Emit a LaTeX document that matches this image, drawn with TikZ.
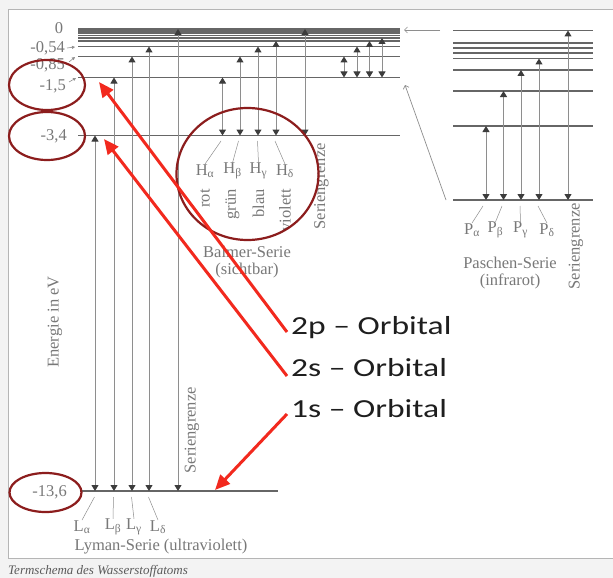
\documentclass[tikz,border=0pt]{standalone}
\usepackage{fontspec}
\setmainfont{Liberation Serif}
\newfontfamily\orbfont{Carlito}
\usetikzlibrary{arrows.meta}
\definecolor{paper}{HTML}{F3F3F3}
\definecolor{framegray}{HTML}{B5B5B5}
\definecolor{levelgray}{HTML}{666666}
\definecolor{arrowgray}{HTML}{8E8E8E}
\definecolor{tipgray}{HTML}{3C3C3C}
\definecolor{inkgray}{HTML}{787878}
\definecolor{capgray}{HTML}{5A5A5A}
\definecolor{ringred}{HTML}{8C1D1D}
\definecolor{markred}{HTML}{F2291E}
\definecolor{orbink}{HTML}{1E1E1E}
\newcommand{\orbtext}[1]{\scalebox{1.29}[1]{#1}}
\begin{document}
\begin{tikzpicture}[x=1pt,y=-1pt,
  levelline/.style={levelgray, line width=1.1pt},
  transarrow/.style={arrowgray, line width=1pt,
    {Triangle[length=6pt,width=7pt,color=tipgray]}-{Triangle[length=6pt,width=7pt,color=tipgray]}},
  leadline/.style={arrowgray, line width=0.5pt},
  pointer/.style={arrowgray, line width=0.7pt, -{Straight Barb[length=3pt,width=6pt]}},
  tinyarrow/.style={arrowgray, line width=0.6pt, -{Triangle[length=3pt,width=3pt]}},
  lbl/.style={text=inkgray, inner sep=0pt, font=\fontsize{16.5}{18}\selectfont},
  vlbl/.style={lbl, rotate=90, anchor=east},
  ring/.style={ringred, line width=2.2pt},
  redarrow/.style={markred, line width=3pt, -{Triangle[length=15pt,width=13pt]}},
  orb/.style={text=orbink, inner sep=0pt, anchor=west,
    font=\orbfont\fontsize{26}{30}\selectfont}]
\useasboundingbox (0,0) rectangle (613,578);
% page and frame
\fill[paper] (0,0) rectangle (613,578);
\fill[white] (8,10) rectangle (613,558);
\draw[framegray, line width=1pt] (614,10) -- (8,10) -- (8,558) -- (614,558);

% ---- left term scheme: levels n = oo ... 2, and n = 1
\foreach \y in {29,31,33,35.5,38,41,46.5,56.5,77.5,135.5}
  \draw[levelline] (78,\y) -- (400,\y);
\draw[levelline] (80,491) -- (278,491);

% Lyman transitions
\foreach \x/\t in {95/135.5,114/77.5,132/56.5,149/46.5,178/29}
  \draw[transarrow] (\x,491) -- (\x,\t);
% Balmer transitions
\foreach \x/\t in {222.5/77.5,240/56.5,258/46.5,276/41,305/29}
  \draw[transarrow] (\x,135.5) -- (\x,\t);
% Paschen transitions (left scheme)
\foreach \x/\t in {344/56.5,357/46.5,369.5/41,382/38}
  \draw[transarrow] (\x,77.5) -- (\x,\t);

% ---- right term scheme (Paschen, enlarged)
\foreach \y in {30.5,43,48,53,58.5,70,91,126,200}
  \draw[levelline] (453,\y) -- (593,\y);
\foreach \x/\t in {486/126,503.5/91,521/70,539/58.5,568/30.5}
  \draw[transarrow] (\x,200) -- (\x,\t);

% pointers linking both schemes
\coordinate (pTopA) at (440,30);
\coordinate (pTopB) at (404,30);
\coordinate (pLowA) at (446,200);
\coordinate (pLowB) at (405,85);
\draw[pointer] (pTopA) -- (pTopB);
\draw[pointer] (pLowA) -- (pLowB);

% energy values
\node[lbl] (e0) at (59,28) {0};
\node[lbl, anchor=east] (e054) at (65,48) {-0,54};
\node[lbl, anchor=east] (e085) at (65,65) {-0,85};
\node[lbl, anchor=east] (e15) at (66,86) {-1,5};
\node[lbl, anchor=east] (e34) at (67,136.5) {-3,4};
\node[lbl, anchor=east] (e136) at (67,492) {-13,6};
\draw[tinyarrow] (e054.east) ++(2,0) -- (75,47);
\draw[tinyarrow] (69,62) -- (75,57);
\draw[tinyarrow] (69,82) -- (76,78);
\node[lbl, rotate=90] (axis) at (55,322) {Energie in eV};

% Lyman labels
\foreach \n/\g/\x/\a in {La/α/82/94.5, Lb/β/113/113.5, Lc/γ/134/131.5, Ld/δ/158/148.5}{
  \node[lbl] (\n) at (\x,527) {L\textsubscript{\g}};
  \draw[leadline] (\a,497) -- (\n.north);
}
\node[lbl] (lyman) at (161,547) {Lyman-Serie (ultraviolett)};
\node[vlbl] (lymlimit) at (192,387) {Seriengrenze};

% Balmer labels
\foreach \n/\g/\x/\a/\c in {Ha/α/205/221/rot, Hb/β/232.5/238.5/grün, Hc/γ/258.5/257.5/blau, Hd/δ/285/275/violett}{
  \node[lbl] (\n) at (\x,171) {H\textsubscript{\g}};
  \draw[leadline] (\a,141) -- (\n.north);
  \node[vlbl] (\n col) at (\x,189) {\c};
}
\node[lbl] (balmer) at (247,252) {Balmer-Serie};
\node[lbl] (balmervis) at (247,271) {(sichtbar)};
\node[vlbl] (balmerlimit) at (321.5,143) {Seriengrenze};

% Paschen labels
\foreach \n/\g/\x/\a in {Pa/α/472/483, Pb/β/495.5/502, Pc/γ/520.5/520, Pd/δ/547/538}{
  \node[lbl] (\n) at (\x,230) {P\textsubscript{\g}};
  \draw[leadline] (\a,206) -- (\n.north);
}
\node[lbl] (paschen) at (510,263) {Paschen-Serie};
\node[lbl] (paschenir) at (510,281) {(infrarot)};
\node[vlbl] (paschenlimit) at (576,203) {Seriengrenze};

% caption
\node[text=capgray, inner sep=0pt, anchor=west, font=\itshape\fontsize{13}{15}\selectfont]
  (caption) at (8,571) {Termschema des Wasserstoffatoms};

% ---- red annotations
\draw[ring] (47,85) ellipse [x radius=38, y radius=25];
\draw[ring] (47,136) ellipse [x radius=38, y radius=24];
\draw[ring] (45.5,492.5) ellipse [x radius=36, y radius=19.5];
\draw[ring] (247.5,174) ellipse [x radius=71, y radius=66];

\node[orb] (o2p) at (291,328) {\orbtext{2p – Orbital}};
\node[orb] (o2s) at (291,368) {\orbtext{2s – Orbital}};
\node[orb] (o1s) at (291,409) {\orbtext{1s – Orbital}};

\coordinate (tip2p) at (99,82);
\coordinate (tip2s) at (104,139);
\coordinate (tip1s) at (215,490);
\coordinate (tail2p) at ([shift={(-4,4)}]o2p.west);
\coordinate (tail2s) at ([shift={(-4,8)}]o2s.west);
\coordinate (tail1s) at ([shift={(-4,5)}]o1s.west);
\draw[redarrow] (tail2p) -- (tip2p);
\draw[redarrow] (tail2s) -- (tip2s);
\draw[redarrow] (tail1s) -- (tip1s);
\end{tikzpicture}
\end{document}
